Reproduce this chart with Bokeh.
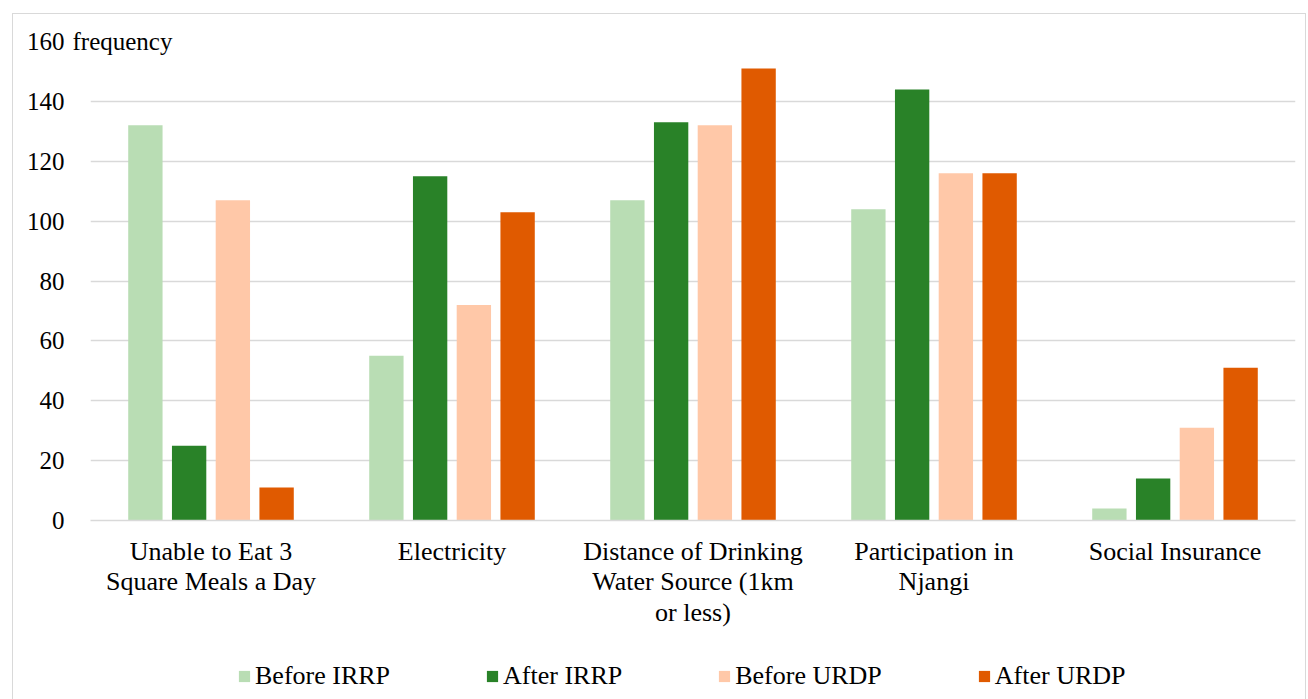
from bokeh.plotting import figure
from bokeh.layouts import column
from bokeh.models import ColumnDataSource, Legend, LegendItem, Label, FixedTicker
from bokeh.transform import dodge
from bokeh.embed import file_html
from bokeh.resources import INLINE

categories = ["Unable to Eat 3\nSquare Meals a Day", "Electricity",
              "Distance of Drinking\nWater Source (1km\nor less)",
              "Participation in\nNjangi", "Social Insurance"]
series_names = ["Before IRRP", "After IRRP", "Before URDP", "After URDP"]
before_irrp = [132, 55, 107, 104, 4]
after_irrp = [25, 115, 133, 144, 14]
before_urdp = [107, 72, 132, 116, 31]
after_urdp = [11, 103, 151, 116, 51]
y_ticks = [0, 20, 40, 60, 80, 100, 120, 140, 160]
y_title = "frequency"

colors = ["#b9ddb4", "#298228", "#ffc8a8", "#e05a00"]
FONT = "Liberation Serif"

src = ColumnDataSource(dict(cat=categories, b1=before_irrp, a1=after_irrp,
                            b2=before_urdp, a2=after_urdp))

p = figure(x_range=categories, y_range=(0, 160), width=1292, height=631,
           output_backend="svg", toolbar_location=None,
           min_border_left=77, min_border_top=26, min_border_right=10,
           min_border_bottom=125)
p.outline_line_color = None
p.background_fill_color = "white"

step = 0.1815
bw = 0.1425
renderers = []
for i, (col, c) in enumerate(zip(["b1", "a1", "b2", "a2"], colors)):
    r = p.vbar(x=dodge("cat", (i - 1.5) * step, range=p.x_range), top=col,
               width=bw, source=src, fill_color=c, line_color=None)
    renderers.append(r)

p.x_range.range_padding = 0
p.xgrid.grid_line_color = None
p.ygrid.grid_line_color = "#d9d9d9"
p.ygrid.grid_line_width = 1.5
p.yaxis.ticker = FixedTicker(ticks=y_ticks)
p.yaxis.axis_line_color = None
p.yaxis.major_tick_line_color = None
p.yaxis.minor_tick_line_color = None
p.yaxis.major_label_text_font = FONT
p.yaxis.major_label_text_font_size = "25px"
p.yaxis.major_label_text_color = "#000000"
p.yaxis.major_label_standoff = 20

p.xaxis.axis_line_color = "#d9d9d9"
p.xaxis.axis_line_width = 1.5
p.xaxis.major_tick_line_color = None
p.xaxis.minor_tick_line_color = None
p.xaxis.major_label_text_font = FONT
p.xaxis.major_label_text_font_size = "26px"
p.xaxis.major_label_text_color = "#000000"
p.xaxis.major_label_text_line_height = 1.06
p.xaxis.major_label_standoff = 10

lbl = Label(x=-18, y=160, x_units="screen", y_units="data", text=y_title,
            text_font=FONT, text_font_size="25px", text_baseline="middle",
            background_fill_color="white", text_color="#000000")
p.add_layout(lbl, "above")

# legend strip
lf = figure(width=1292, height=54, output_backend="svg", toolbar_location=None,
            x_range=(0, 1), y_range=(0, 1), x_axis_location=None, y_axis_location=None,
            min_border=0)
lf.outline_line_color = None
lf.grid.grid_line_color = None
dummies = [lf.vbar(x=[0], top=[0], width=0, fill_color=c, line_color=None) for c in colors]
legend = Legend(items=[LegendItem(label=n, renderers=[r]) for n, r in zip(series_names, dummies)],
                orientation="horizontal", location=(147, 8),
                label_text_font=FONT, label_text_font_size="26px", label_text_color="#000000",
                glyph_width=14, glyph_height=14, spacing=95, label_standoff=4,
                padding=0, margin=0,
                border_line_color=None, background_fill_alpha=0)
lf.add_layout(legend, "center")

layout = column(p, lf, spacing=0, margin=(13, 2, 0, 12),
                styles={"border": "1px solid #d9d9d9"})

open("out.html", "w").write(file_html(layout, INLINE))
